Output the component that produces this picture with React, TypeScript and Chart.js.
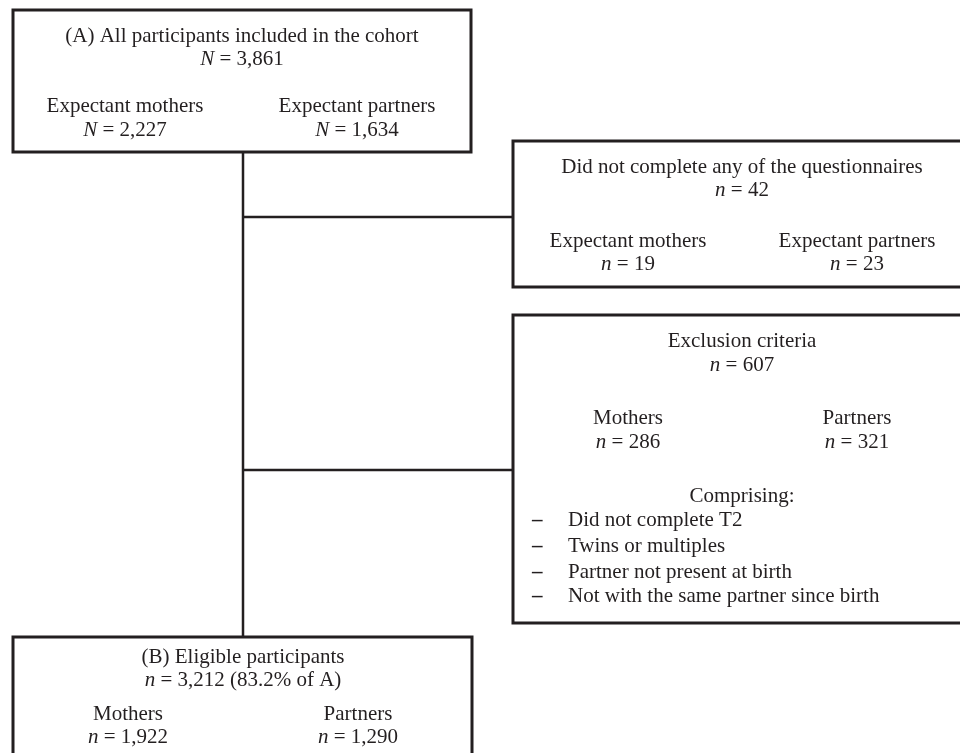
import React, { useEffect, useRef } from 'react';
import { Chart, registerables } from 'chart.js';

Chart.register(...registerables);

// ---- Data ----
const groupLabels = ['Expectant mothers', 'Expectant partners'];
const shortGroupLabels = ['Mothers', 'Partners'];
const cohortCounts = [3861, 2227, 1634]; // total, mothers, partners
const noQuestionnaireCounts = [42, 19, 23];
const exclusionCounts = [607, 286, 321];
const eligibleCounts = [3212, 1922, 1290];
const eligiblePercentOfA = [83.2];
const exclusionReasons = [
  'Did not complete T2',
  'Twins or multiples',
  'Partner not present at birth',
  'Not with the same partner since birth',
];
const boxTitles = [
  '(A) All participants included in the cohort',
  'Did not complete any of the questionnaires',
  'Exclusion criteria',
  '(B) Eligible participants',
];

// ---- Layout (in the 960 x 753 value space of the hidden axes) ----
const W = 960;
const H = 753;
const INK = '#231f20';
const FONT = '"Liberation Serif", "Times New Roman", serif';
const FS = 21;

const boxA = { l: 13, t: 10, r: 471, b: 152, cx: 242, left: 125, right: 357 };
const boxQ = { l: 513, t: 141, r: 970, b: 287, cx: 742, left: 628, right: 857 };
const boxE = { l: 513, t: 315, r: 970, b: 623, cx: 742, left: 628, right: 857 };
const boxB = { l: 13, t: 637, r: 472, b: 770, cx: 243, left: 128, right: 358 };
const trunkX = 243;
const branchYs = [217, 470];

const fmt = (n: number) => n.toLocaleString('en-US');

type Run = { text: string; italic?: boolean; bold?: boolean };

function drawRuns(ctx: CanvasRenderingContext2D, runs: Run[], cx: number, baseline: number, align: 'center' | 'left' = 'center') {
  const fontFor = (r: Run) => `${r.italic ? 'italic ' : ''}${r.bold ? 'bold ' : ''}${FS}px ${FONT}`;
  let total = 0;
  const widths = runs.map((r) => {
    ctx.font = fontFor(r);
    const w = ctx.measureText(r.text).width;
    total += w;
    return w;
  });
  let x = align === 'center' ? cx - total / 2 : cx;
  ctx.textBaseline = 'alphabetic';
  ctx.textAlign = 'left';
  ctx.fillStyle = INK;
  runs.forEach((r, i) => {
    ctx.font = fontFor(r);
    ctx.fillText(r.text, x, baseline);
    x += widths[i];
  });
}

const countRuns = (sym: string, n: number, suffix = ''): Run[] => [
  { text: sym, italic: true },
  { text: ` = ${fmt(n)}${suffix}` },
];

const flowPlugin = {
  id: 'flowBoxes',
  afterDatasetsDraw(chart: any) {
    const { ctx, scales } = chart;
    const X = (v: number) => scales.x.getPixelForValue(v);
    const Y = (v: number) => scales.y.getPixelForValue(v);
    ctx.save();
    ctx.strokeStyle = INK;
    ctx.lineWidth = 3;
    ctx.lineJoin = 'miter';
    const box = (b: any) => {
      ctx.beginPath();
      ctx.rect(X(b.l), Y(b.t), X(b.r) - X(b.l), Y(b.b) - Y(b.t));
      ctx.stroke();
    };
    [boxA, boxQ, boxE, boxB].forEach(box);

    // Box A
    drawRuns(ctx, [{ text: boxTitles[0] }], X(boxA.cx), Y(42));
    drawRuns(ctx, countRuns('N', cohortCounts[0]), X(boxA.cx), Y(65));
    drawRuns(ctx, [{ text: groupLabels[0] }], X(boxA.left), Y(112));
    drawRuns(ctx, countRuns('N', cohortCounts[1]), X(boxA.left), Y(136));
    drawRuns(ctx, [{ text: groupLabels[1] }], X(boxA.right), Y(112));
    drawRuns(ctx, countRuns('N', cohortCounts[2]), X(boxA.right), Y(136));

    // Box questionnaires
    drawRuns(ctx, [{ text: boxTitles[1] }], X(boxQ.cx), Y(173));
    drawRuns(ctx, countRuns('n', noQuestionnaireCounts[0]), X(boxQ.cx), Y(196));
    drawRuns(ctx, [{ text: groupLabels[0] }], X(boxQ.left), Y(247));
    drawRuns(ctx, countRuns('n', noQuestionnaireCounts[1]), X(boxQ.left), Y(270));
    drawRuns(ctx, [{ text: groupLabels[1] }], X(boxQ.right), Y(247));
    drawRuns(ctx, countRuns('n', noQuestionnaireCounts[2]), X(boxQ.right), Y(270));

    // Box exclusion
    drawRuns(ctx, [{ text: boxTitles[2] }], X(boxE.cx), Y(347));
    drawRuns(ctx, countRuns('n', exclusionCounts[0]), X(boxE.cx), Y(371));
    drawRuns(ctx, [{ text: shortGroupLabels[0] }], X(boxE.left), Y(424));
    drawRuns(ctx, countRuns('n', exclusionCounts[1]), X(boxE.left), Y(448));
    drawRuns(ctx, [{ text: shortGroupLabels[1] }], X(boxE.right), Y(424));
    drawRuns(ctx, countRuns('n', exclusionCounts[2]), X(boxE.right), Y(448));
    drawRuns(ctx, [{ text: 'Comprising:' }], X(boxE.cx), Y(502));
    const itemBase = [526, 552, 578, 602];
    exclusionReasons.forEach((reason, i) => {
      drawRuns(ctx, [{ text: '\u2013', bold: true }], X(532), Y(itemBase[i]), 'left');
      drawRuns(ctx, [{ text: reason }], X(568), Y(itemBase[i]), 'left');
    });

    // Box B
    drawRuns(ctx, [{ text: boxTitles[3] }], X(boxB.cx), Y(663));
    drawRuns(ctx, countRuns('n', eligibleCounts[0], ` (${eligiblePercentOfA[0]}% of A)`), X(boxB.cx), Y(686));
    drawRuns(ctx, [{ text: shortGroupLabels[0] }], X(boxB.left), Y(720));
    drawRuns(ctx, countRuns('n', eligibleCounts[1]), X(boxB.left), Y(743));
    drawRuns(ctx, [{ text: shortGroupLabels[1] }], X(boxB.right), Y(720));
    drawRuns(ctx, countRuns('n', eligibleCounts[2]), X(boxB.right), Y(743));
    ctx.restore();
  },
};

export default function App() {
  const ref = useRef<HTMLCanvasElement | null>(null);
  useEffect(() => {
    document.body.style.margin = '0';
    const canvas = ref.current;
    if (!canvas) return;
    const connector = (pts: { x: number; y: number }[]) => ({
      type: 'line' as const,
      data: pts,
      showLine: true,
      borderColor: INK,
      borderWidth: 2.5,
      pointRadius: 0,
      fill: false,
      tension: 0,
    });
    const chart = new Chart(canvas, {
      type: 'scatter',
      data: {
        datasets: [
          connector([{ x: trunkX, y: boxA.b }, { x: trunkX, y: boxB.t }]),
          connector([{ x: trunkX, y: branchYs[0] }, { x: boxQ.l, y: branchYs[0] }]),
          connector([{ x: trunkX, y: branchYs[1] }, { x: boxE.l, y: branchYs[1] }]),
        ] as any,
      },
      options: {
        animation: false,
        responsive: false,
        maintainAspectRatio: false,
        layout: { padding: 0 },
        plugins: { legend: { display: false }, tooltip: { enabled: false } },
        scales: {
          x: { type: 'linear', min: 0, max: W, display: false },
          y: { type: 'linear', min: 0, max: H, reverse: true, display: false },
        },
      },
      plugins: [flowPlugin],
    });
    return () => chart.destroy();
  }, []);
  return (
    <div style={{ width: W, height: H, background: '#fff' }}>
      <canvas ref={ref} width={W} height={H} style={{ display: 'block' }} />
    </div>
  );
}
